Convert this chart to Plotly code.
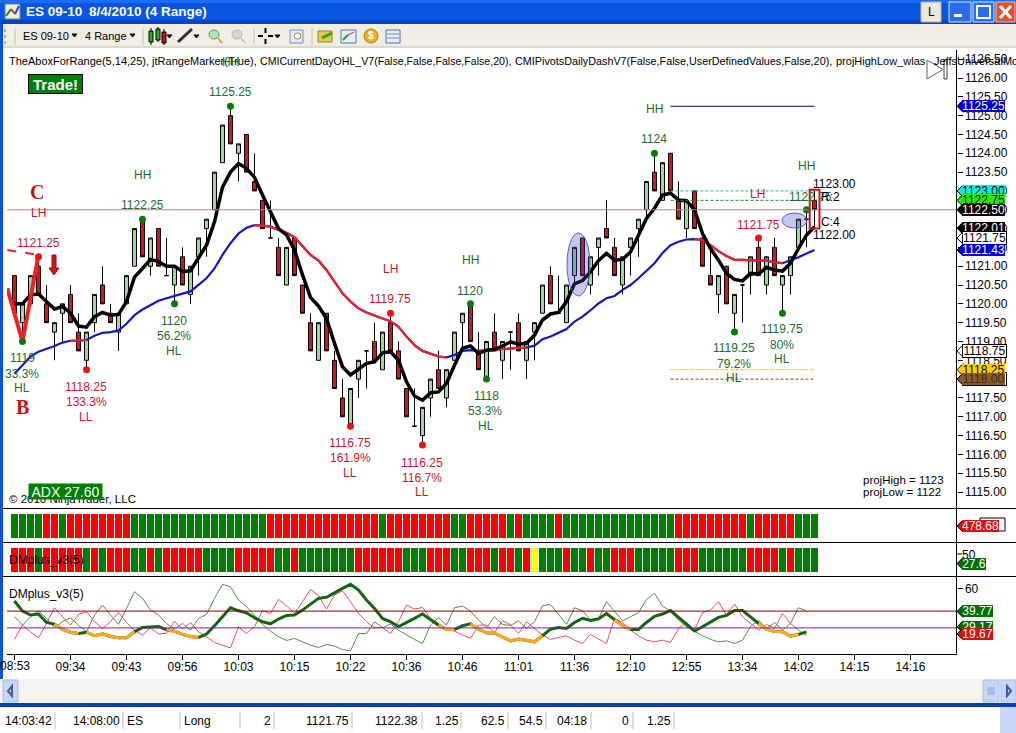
import plotly.graph_objects as go

W, H = 1016, 733

# ------------------------------ data ------------------------------
time_labels = ["08:53","09:34","09:43","09:56","10:03","10:15","10:22","10:36","10:46",
               "11:01","11:36","12:10","12:55","13:34","14:02","14:15","14:16"]

opens = [1120.75,1119.5,1120.0,1121.0,1120.0,1119.25,1119.75,1120.25,1119.25,1118.5,
         1119.5,1120.5,1119.75,1119.25,1120.0,1121.0,1122.25,1121.0,1122.0,1120.75,
         1120.5,1121.25,1120.25,1121.25,1122.0,1122.5,1123.75,1125.0,1124.0,1124.5,
         1123.25,1122.75,1121.75,1121.5,1120.5,1121.75,1120.5,1119.5,1118.5,1119.75,
         1118.5,1117.5,1116.75,1118.0,1118.75,1119.0,1118.25,1119.5,1118.75,1117.75,
         1116.75,1116.5,1117.5,1118.25,1117.5,1118.5,1119.5,1120.0,1118.75,1118.0,
         1119.25,1118.5,1119.25,1119.5,1118.5,1119.25,1119.75,1120.75,1119.75,1119.5,
         1120.75,1121.75,1120.5,1121.5,1122.0,1121.5,1120.5,1121.5,1122.0,1122.5,
         1123.5,1122.75,1124.0,1122.75,1122.0,1123.0,1121.75,1120.75,1120.25,1121.0,
         1119.75,1120.5,1120.75,1121.5,1120.5,1121.5,1120.5,1120.75,1121.5,1122.25,1122.75]
highs = [1120.75,1120.0,1120.75,1121.25,1120.5,1119.5,1120.0,1120.5,1119.75,1119.25,
         1120.25,1121.0,1120.0,1119.75,1120.75,1122.0,1122.25,1121.75,1122.0,1121.75,
         1121.0,1121.5,1121.0,1121.75,1122.25,1123.5,1124.75,1125.25,1124.25,1124.5,
         1124.0,1122.75,1122.75,1121.75,1121.5,1121.75,1120.5,1119.75,1119.5,1119.75,
         1118.75,1118.0,1117.75,1118.5,1118.75,1119.5,1119.25,1119.75,1119.0,1117.75,
         1117.75,1117.25,1118.0,1118.75,1118.25,1119.25,1119.75,1120.0,1119.25,1119.0,
         1119.75,1119.0,1119.25,1119.75,1119.0,1119.5,1120.5,1121.0,1120.75,1120.5,
         1121.5,1121.75,1121.25,1121.75,1122.75,1121.75,1121.25,1121.75,1122.25,1123.25,
         1124.0,1123.75,1124.0,1123.25,1122.75,1123.0,1121.75,1121.5,1120.75,1121.0,
         1120.25,1120.5,1121.25,1121.75,1121.25,1121.75,1120.75,1121.25,1122.25,1122.5,1123.0]
lows = [1119.75,1119.0,1120.0,1120.25,1119.5,1118.5,1119.0,1119.5,1118.75,1118.25,
        1119.25,1120.0,1119.5,1118.75,1120.0,1121.0,1121.25,1120.75,1121.0,1120.75,
        1120.0,1120.5,1120.0,1120.75,1121.25,1122.5,1123.75,1124.25,1123.25,1123.5,
        1123.0,1122.0,1121.75,1120.75,1120.5,1120.75,1119.75,1118.75,1118.5,1118.75,
        1117.75,1117.0,1116.75,1117.5,1117.75,1118.5,1118.25,1118.75,1118.0,1117.0,
        1116.75,1116.25,1117.0,1117.75,1117.25,1118.5,1118.75,1119.0,1118.25,1118.0,
        1118.75,1118.0,1118.25,1118.75,1118.0,1118.5,1119.75,1120.0,1119.75,1119.5,
        1120.5,1120.75,1120.25,1120.75,1121.75,1120.75,1120.25,1120.75,1121.25,1122.25,
        1123.0,1122.75,1123.0,1122.25,1121.75,1122.0,1121.0,1120.5,1119.75,1120.0,
        1119.25,1119.5,1120.25,1120.75,1120.25,1120.75,1119.75,1120.25,1121.5,1121.5,1122.0]
closes = [1119.75,1120.0,1120.75,1120.25,1119.5,1119.5,1120.0,1119.5,1118.75,1119.25,
          1120.25,1120.0,1119.5,1119.75,1120.75,1122.0,1121.25,1121.75,1121.0,1120.75,
          1121.0,1120.5,1121.0,1121.75,1122.25,1123.5,1124.75,1124.25,1124.25,1123.5,
          1123.0,1122.0,1121.75,1120.75,1121.5,1120.75,1119.75,1118.75,1119.5,1118.75,
          1117.75,1117.0,1117.75,1118.5,1118.75,1118.5,1119.25,1118.75,1118.0,1117.0,
          1116.75,1117.25,1118.0,1117.75,1118.25,1119.25,1119.75,1119.0,1118.25,1119.0,
          1118.75,1119.0,1119.25,1118.75,1119.0,1119.5,1120.5,1120.0,1119.75,1120.5,
          1121.5,1120.75,1121.25,1121.75,1121.75,1120.75,1121.25,1121.75,1122.25,1123.25,
          1123.0,1123.75,1123.0,1122.25,1122.75,1122.0,1121.0,1120.5,1120.75,1120.0,
          1120.25,1120.5,1121.25,1120.75,1121.25,1120.75,1120.75,1121.25,1122.25,1122.25,1122.5]

fast_ma = [1120.0,1120.0,1120.24,1120.26,1120.06,1119.86,1119.93,1119.75,1119.41,1119.38,
           1119.66,1119.77,1119.70,1119.72,1120.06,1120.71,1120.94,1121.18,1121.12,1121.0,
           1121.0,1120.86,1120.88,1121.2,1121.56,1122.18,1123.1,1123.5,1123.73,1123.6,
           1123.36,1122.89,1122.45,1122.0,1121.83,1121.43,1120.77,1120.17,1119.94,1119.61,
           1118.95,1118.33,1118.11,1118.26,1118.42,1118.46,1118.7,1118.73,1118.5,1117.93,
           1117.55,1117.44,1117.64,1117.66,1117.89,1118.37,1118.82,1118.88,1118.68,1118.77,
           1118.79,1118.88,1118.99,1118.93,1118.95,1119.17,1119.57,1119.73,1119.77,1120.06,
           1120.53,1120.62,1120.85,1121.15,1121.34,1121.16,1121.18,1121.38,1121.83,1122.27,
           1122.54,1122.89,1122.94,1122.76,1122.74,1122.5,1121.87,1121.47,1121.16,1120.81,
           1120.65,1120.61,1120.81,1120.79,1120.97,1120.9,1120.87,1121.08,1121.47,1121.83,1122.05]
trend_ma = [1118.14,1118.36,1118.6,1118.73,1118.8,1118.88,1118.97,1119.02,1119.02,1119.04,
            1119.15,1119.23,1119.25,1119.29,1119.47,1119.7,1119.85,1119.97,1120.08,1120.15,
            1120.22,1120.27,1120.33,1120.51,1120.68,1120.94,1121.3,1121.61,1121.87,1122.02,
            1122.09,1122.08,1122.05,1121.96,1121.89,1121.77,1121.52,1121.3,1121.15,1120.9,
            1120.59,1120.28,1120.06,1119.88,1119.77,1119.68,1119.61,1119.54,1119.39,1119.13,
            1118.9,1118.75,1118.68,1118.6,1118.58,1118.64,1118.75,1118.77,1118.75,1118.75,
            1118.77,1118.8,1118.82,1118.82,1118.84,1118.89,1119.06,1119.13,1119.23,1119.33,
            1119.53,1119.66,1119.83,1120.01,1120.15,1120.21,1120.37,1120.5,1120.68,1120.88,
            1121.08,1121.35,1121.56,1121.65,1121.71,1121.72,1121.7,1121.56,1121.4,1121.27,
            1121.17,1121.17,1121.15,1121.15,1121.15,1121.1,1121.08,1121.15,1121.24,1121.34,1121.43]
trend_red_runs = [(7, 9), (30, 54), (58, 64), (85, 96)]

swing_high_idx = [16, 20, 27, 1, 57, 59, 80, 90, 96, 99]
swing_high_val = [1122.25, 1120.0, 1125.25, 1119.0, 1120.0, 1118.0, 1124.0, 1119.25, 1119.75, 1122.5]
swing_low_idx = [3, 9, 42, 47, 51, 93]
swing_low_val = [1121.25, 1118.25, 1116.75, 1119.75, 1116.25, 1121.75]

zig_idx = [-0.9, 1, 3]
zig_val = [1120.41, 1119.0, 1121.3]
zig_dash_idx = [-0.9, 3]
zig_dash_val = [1121.43, 1121.3]

top_runs = [("G",4),("R",2),("G",1),("R",8),("G",17),("R",14),("G",1),("R",8),("G",2),("R",5),
            ("G",1),("R",1),("G",4),("R",1),("G",14),("R",9),("G",1),("R",5),("G",3)]
mid_runs = [("R",3),("G",1),("R",5),("G",1),("R",1),("G",1),("R",3),("G",2),("R",1),("G",1),
            ("R",5),("G",4),("R",5),("G",2),("R",1),("G",7),("R",6),("G",3),("R",3),("G",2),
            ("R",3),("G",1),("R",2),("G",1),("R",1),("Y",1),("G",3),("R",1),("G",2),("R",1),
            ("G",2),("R",3),("G",5),("R",3),("G",6),("R",4),("G",1),("R",1),("G",3)]

adx = [49.0,40.0,36.5,37.4,29.9,28.4,23.6,21.2,20.0,21.2,
       18.0,19.8,17.4,16.2,16.2,21.5,25.4,25.7,26.3,23.3,
       22.1,19.2,17.4,16.5,19.5,26.9,35.0,43.0,40.3,38.5,
       34.1,30.5,28.7,32.9,36.2,36.5,40.9,46.0,51.4,52.3,
       56.5,60.3,63.9,58.8,49.9,42.4,33.5,30.5,26.3,29.6,
       33.5,37.4,32.6,27.5,23.6,23.6,26.9,28.7,23.9,20.6,
       20.3,16.8,13.5,15.0,14.1,12.6,18.0,23.9,25.4,24.5,
       29.9,33.5,31.7,33.2,37.9,32.0,26.9,23.6,23.6,29.9,
       35.3,37.4,40.6,34.4,28.4,22.4,26.0,30.5,34.4,36.2,
       40.6,40.6,34.4,29.0,23.9,21.8,21.5,17.7,19.2,21.5]
adx_orange_runs = [(5, 8), (9, 15), (19, 23), (53, 55), (57, 66), (75, 77), (93, 98)]
dm_plus = [35.0,27.5,35.0,40.3,33.5,25.1,30.5,34.1,27.5,21.5,
           36.5,45.4,36.5,28.1,42.4,57.4,51.4,40.9,36.5,29.0,
           23.9,29.0,23.0,33.5,37.1,51.4,63.9,61.8,49.9,43.9,
           36.5,28.1,22.1,17.1,13.8,15.6,12.6,9.6,7.5,10.2,
           8.7,5.7,4.5,20.0,20.0,30.5,25.4,28.4,23.0,18.6,
           14.7,11.1,27.5,34.1,27.5,43.0,44.5,40.0,32.0,25.1,
           35.0,28.1,27.2,31.4,24.5,30.5,44.8,46.0,37.1,28.1,
           43.0,40.3,32.0,33.5,48.4,39.4,31.4,35.0,38.5,50.5,
           55.9,44.5,40.0,32.0,26.0,22.1,18.0,14.7,12.6,13.5,
           11.1,14.1,26.0,32.0,24.5,29.9,23.0,29.0,43.0,40.0]
dm_minus = [14.7,27.5,21.5,16.2,29.0,43.0,35.0,27.5,37.1,39.4,
            30.5,24.5,30.5,38.8,29.9,23.0,18.6,25.1,19.5,20.3,
            31.1,23.9,29.9,21.5,17.1,12.0,9.6,7.2,26.0,20.0,
            26.0,40.6,37.9,50.5,44.8,37.9,48.4,59.4,53.8,41.8,
            54.4,58.2,48.4,37.9,30.5,25.1,25.4,20.0,30.5,45.4,
            41.8,43.3,33.5,29.0,23.9,22.1,18.6,15.6,27.5,27.5,
            20.9,31.4,27.8,20.0,30.5,24.5,18.6,14.7,16.2,18.0,
            14.1,11.1,19.2,15.0,11.1,33.5,29.9,23.0,18.0,14.1,
            12.6,14.1,12.0,24.5,29.9,23.0,38.8,40.9,48.4,36.5,
            46.3,35.0,29.0,23.0,28.1,24.5,37.9,29.0,23.0,18.0]

# ------------------------------ helpers ------------------------------
def px(x): return x / W
def py(y): return 1 - y / H
def dom(top, bot): return [1 - bot / H, 1 - top / H]
def runs(pairs):
    out = []
    for c, n in pairs:
        out += [c] * n
    return out

FONT = "Liberation Sans"
GREEN_T = "#1E6B2A"
RED_T = "#C4162E"
CELL = {"G": "#007F00", "R": "#FF0000", "Y": "#FFFF00"}
n_bars = len(opens)
bar_x = list(range(n_bars))

shapes, ann = [], []

def rect(x0, y0, x1, y1, fill, line=None, layer="below", lw=1):
    shapes.append(dict(type="rect", xref="paper", yref="paper", x0=px(x0), x1=px(x1),
                       y0=py(y1), y1=py(y0), fillcolor=fill, layer=layer,
                       line=dict(color=line or fill, width=lw if line else 0)))

def seg(x0, y0, x1, y1, color, lw=1, layer="above", dash="solid"):
    shapes.append(dict(type="line", xref="paper", yref="paper", x0=px(x0), x1=px(x1),
                       y0=py(y0), y1=py(y1), layer=layer, line=dict(color=color, width=lw, dash=dash)))

def poly(points, fill=None, line="#000000", lw=1, layer="above"):
    d = "M " + " L ".join(f"{px(a):.5f} {py(b):.5f}" for a, b in points) + " Z"
    shapes.append(dict(type="path", xref="paper", yref="paper", path=d, layer=layer,
                       fillcolor=fill or "rgba(0,0,0,0)", line=dict(color=line, width=lw)))

def oval(x0, y0, x1, y1, fill, line, lw=1):
    shapes.append(dict(type="circle", xref="paper", yref="paper", x0=px(x0), x1=px(x1), y0=py(y1), y1=py(y0),
                       fillcolor=fill, layer="above", line=dict(color=line, width=lw)))

def T(x, y, text, color="#000000", size=12, anchor="center", bold=False, family=FONT, **kw):
    if bold:
        text = f"<b>{text}</b>"
    ann.append(dict(x=px(x), y=py(y), xref="paper", yref="paper", text=text, showarrow=False,
                    xanchor=anchor, yanchor="middle", borderpad=0,
                    font=dict(family=family, size=size, color=color), **kw))

def flag(value, yref, text, fill, txt, right=1005, border=None):
    """Price marker on the right axis, placed by the axis scale."""
    shapes.append(dict(type="path", xref="paper", yref=yref, xsizemode="pixel", ysizemode="pixel",
                       xanchor=px(957), yanchor=value, layer="above",
                       path="M 0 0 L 6 6 L 6 -6 Z", fillcolor=fill,
                       line=dict(color=border or "#000000", width=1)))
    ann.append(dict(x=px(962), y=value, xref="paper", yref=yref, text=text, showarrow=False,
                    xanchor="left", yanchor="middle", width=right - 962, height=12, borderpad=0,
                    bgcolor=fill, bordercolor=border or fill, borderwidth=1 if border else 0,
                    font=dict(family=FONT, size=12, color=txt)))

# ------------------------------ window chrome ------------------------------
rect(0, 0, W, 3, "#1A6CF0")
rect(0, 3, W, 20, "#0A56E2")
rect(0, 20, W, 24, "#0A42C4")
rect(0, 24, W, 48, "#EFEDE4")
rect(0, 46, W, 48, "#DCD9CB")
rect(0, 24, 3, 704, "#0A50DC")
rect(0, 679, W, 703, "#F5F4EE")
rect(3, 680, 18, 702, "#C6D6F6", "#A9BEE8")
rect(983, 680, 999, 702, "#C6D6F6", "#A9BEE8")
rect(1001, 680, 1016, 702, "#C6D6F6", "#A9BEE8")
rect(0, 703, W, 707, "#0A3CBE")
rect(1000, 707, 1016, 733, "#C6D6F6")
poly([(12, 686), (8, 691), (12, 696)], None, "#3E5A9A", 2)
poly([(1007, 686), (1011, 691), (1007, 696)], None, "#3E5A9A", 2)
for gx in (988, 990, 992, 994):
    seg(gx, 687, gx, 695, "#8CA4D8")

# title bar
rect(5, 4, 20, 19, "#E8F0E0", "#6A8A6A", layer="above")
seg(6, 16, 11, 9, "#2A7A2A", 2)
seg(11, 9, 15, 14, "#CC3333", 2)
seg(15, 14, 19, 6, "#3344BB", 2)
T(25, 12, "ES 09-10", "#FFFFFF", 13.5, "left", True)
T(88, 12, "8/4/2010 (4 Range)", "#FFFFFF", 13.5, "left", True)
rect(921, 2, 941, 22, "#ECE9D8", "#B8B4A0", "above")
T(931, 12, "L", "#000000", 12)
rect(949, 2, 971, 22, "#2A6CF0", "#DCE8FF", "above")
rect(954, 14, 962, 17, "#FFFFFF", layer="above")
rect(973, 2, 994, 22, "#2A6CF0", "#DCE8FF", "above")
rect(977, 6, 990, 18, "#2A6CF0", "#FFFFFF", "above", 2)
rect(996, 2, 1015, 22, "#E2512E", "#F4C4B4", "above")
seg(1000, 6, 1011, 18, "#FFFFFF", 3)
seg(1011, 6, 1000, 18, "#FFFFFF", 3)

# toolbar
seg(5, 29, 5, 44, "#B8B4A0", 2, dash="dot")
seg(15, 28, 15, 45, "#C4C0B0")
T(22, 36, "ES 09-10", "#000000", 11, "left")
poly([(72, 34), (77, 34), (74.5, 37)], "#000000")
T(84, 36, "4 Range", "#000000", 11, "left")
poly([(130, 34), (135, 34), (132.5, 37)], "#000000")
seg(143, 28, 143, 45, "#C4C0B0")
seg(151, 28, 151, 45, "#000000")
rect(149, 31, 153, 42, "#20B020", "#000000", "above")
seg(158, 27, 158, 42, "#000000")
rect(156, 29, 160, 40, "#20B020", "#000000", "above")
seg(164, 29, 164, 45, "#000000")
rect(162, 32, 166, 43, "#C01010", "#000000", "above")
poly([(167, 35), (172, 35), (169.5, 38)], "#000000")
seg(178, 42, 192, 29, "#303030", 3)
poly([(194, 35), (199, 35), (196.5, 38)], "#000000")
oval(209, 30, 219, 39, "#B8E0B8", "#5A9A5A")
seg(218, 38, 222, 43, "#D8A040", 2)
oval(232, 30, 242, 39, "#D4D4D0", "#B4B4B0")
seg(241, 38, 245, 43, "#C4C4C0", 2)
seg(254, 28, 254, 45, "#C4C0B0")
seg(258, 36, 263, 36, "#000000", 2)
seg(268, 36, 273, 36, "#000000", 2)
seg(265.5, 28, 265.5, 33, "#000000", 2)
seg(265.5, 39, 265.5, 44, "#000000", 2)
poly([(275, 35), (280, 35), (277.5, 38)], "#000000")
rect(290, 30, 303, 43, "#E4ECF8", "#7090C0", "above")
oval(294, 33, 301, 39, "#F4F8FF", "#C08040")
seg(312, 28, 312, 45, "#C4C0B0")
rect(318, 31, 332, 42, "#E8C850", "#A88020", "above")
seg(322, 38, 332, 33, "#30A030", 3)
rect(341, 30, 356, 43, "#E4F0F8", "#5070A0", "above")
seg(343, 40, 348, 35, "#20A020", 2)
seg(348, 35, 354, 32, "#C03030", 1)
oval(364, 29, 378, 43, "#F0B020", "#B07810")
T(371, 36, "$", "#FFFFFF", 10, bold=True)
rect(386, 30, 400, 43, "#E8ECF8", "#5070A0", "above")
for gy in (34, 38):
    seg(387, gy, 399, gy, "#7090C0")

# status row
for right, txt in [(53, "14:03:42"), (121, "14:08:00"), (272, "2"), (350, "1121.75"), (419, "1122.38"),
                   (460, "1.25"), (506, "62.5"), (544, "54.5"), (588, "04:18"), (630, "0"), (672, "1.25")]:
    T(right, 721, txt, "#000000", 12, "right")
T(126, 721, "ES", "#000000", 12, "left")
T(183, 721, "Long", "#000000", 12, "left")
for sx in (55, 123, 180, 240, 274, 352, 422, 461, 508, 546, 591, 633, 674):
    seg(sx, 712, sx, 729, "#BDBDB5")

# panel separators and axis
for sy in (508.5, 542.5, 576.5):
    seg(2, sy, W, sy, "#000000")
seg(956.5, 50, 956.5, 653.5, "#000000")
seg(956.5, 554, 962, 554, "#000000")

# ------------------------------ overlays on the price pane ------------------------------
def hline_y(v, yref, color, dash="solid", lw=1):
    shapes.append(dict(type="line", xref="x domain", yref=yref, x0=0, x1=1, y0=v, y1=v, layer="above",
                       line=dict(color=color, width=lw, dash=dash)))
hline_y(1122.5, "y", "#B08888")
hline_y(40, "y4", "#8B0000")
hline_y(25, "y4", "#7B1FA2")

oval(567, 233, 590, 296, "rgba(70,70,200,0.30)", "#5A5AC0")
oval(782, 213, 807, 228, "rgba(70,70,200,0.30)", "#5A5AC0")
shapes.append(dict(type="rect", xref="x", yref="y", x0=99.4, x1=100.62, y0=1122.0, y1=1123.03, layer="above",
                   line=dict(color="#C81818", width=2)))

# play icon
poly([(927, 60), (943, 69.5), (927, 79)], None, "#606060", 1)
rect(944, 60, 947, 79, "#FFFFFF", "#404040", "above")

# down arrow beside the swing high
poly([(52, 255), (56, 255), (56, 268), (59, 268), (54, 275), (49, 268), (52, 268)], "#CC1818", "#8A1010")

# text on the price pane
T(8, 61, "TheAboxForRange(5,14,25), jtRangeMarker(True),", "#000000", 11, "left")
T(259, 61, "CMICurrentDayOHL_V7(False,False,False,False,20),", "#000000", 10.6, "left")
T(514, 61, "CMIPivotsDailyDashV7(False,False,UserDefinedValues,False,20),", "#000000", 10.8, "left")
T(835, 61, "projHighLow_wlas", "#000000", 11, "left")
T(933, 61, "JeffsUniversalMo", "#000000", 11, "left")
ann.append(dict(x=px(28), y=py(74), xref="paper", yref="paper", text="<b>Trade!</b>", showarrow=False,
                xanchor="left", yanchor="top", width=53, height=18, bgcolor="#008000", bordercolor="#000000",
                borderwidth=1, borderpad=0, font=dict(family=FONT, size=15, color="#FFFFFF")))
T(37, 192, "C", "#CC1010", 20, bold=True, family="Liberation Serif")
T(22, 407, "B", "#CC1010", 20, bold=True, family="Liberation Serif")

green_labels = [(230, 62, "HH"), (230, 92, "1125.25"), (142, 175, "HH"), (142, 205, "1122.25"),
                (22, 358, "1119"), (22, 374, "33.3%"), (22, 388, "HL"),
                (174, 321, "1120"), (174, 336, "56.2%"), (174, 351, "HL"),
                (470, 260, "HH"), (470, 291, "1120"),
                (486, 396, "1118"), (485, 411, "53.3%"), (486, 426, "HL"),
                (654, 109, "HH"), (654, 139, "1124"),
                (734, 348, "1119.25"), (734, 364, "79.2%"), (734, 378, "HL"),
                (782, 329, "1119.75"), (782, 345, "80%"), (782, 359, "HL"),
                (806, 166, "HH"), (810, 197, "1122.75")]
red_labels = [(38, 213, "LH"), (38, 243, "1121.25"),
              (86, 387, "1118.25"), (86, 402, "133.3%"), (86, 417, "LL"),
              (390, 269, "LH"), (390, 299, "1119.75"),
              (350, 443, "1116.75"), (350, 458, "161.9%"), (350, 473, "LL"),
              (422, 463, "1116.25"), (422, 478, "116.7%"), (422, 492, "LL"),
              (757, 194, "LH"), (758, 225, "1121.75")]
for x, y, t in green_labels:
    T(x, y, t, GREEN_T, 12)
for x, y, t in red_labels:
    T(x, y, t, RED_T, 12)
T(812, 184, "1123.00", "#000000", 12, "left")
T(820, 197, "R:2", "#000000", 12, "left")
T(820, 222, "C:4", "#000000", 12, "left")
T(812, 235, "1122.00", "#000000", 12, "left")
T(862, 480, "projHigh = 1123", "#000000", 11.5, "left")
T(862, 492, "projLow = 1122", "#000000", 11.5, "left")
T(8, 499, "© 2010 NinjaTrader, LLC", "#000000", 11.5, "left")
ann.append(dict(x=px(28), y=py(483), xref="paper", yref="paper", text="ADX 27.60", showarrow=False,
                xanchor="left", yanchor="top", width=73, height=15, bgcolor="#008000", borderpad=0,
                font=dict(family=FONT, size=14, color="#FFFFFF")))
T(8, 560, "DMplus_v3(5)", "#000000", 12, "left")
T(8, 594, "DMplus_v3(5)", "#000000", 12, "left")
T(961, 555, "50", "#000000", 12, "left")
T(15, 666, time_labels[0], "#000000", 12)

# price markers on the right axis
rect(980, 518, 1005, 531, "#FFFFFF", "#000000", "above")
flag(1125.25, "y", "1125.25", "#0000D0", "#FFFFFF")
flag(1123.0, "y", "1123.00", "#00F0F0", "#000000")
flag(1122.75, "y", "1122.75", "#20F000", "#000000")
flag(1122.5, "y", "1122.50", "#000000", "#FFFFFF")
flag(1122.01, "y", "1122.01", "#000000", "#FFFFFF")
flag(1121.75, "y", "1121.75", "#FFFFFF", "#000000", border="#000000")
flag(1121.43, "y", "1121.43", "#0000D0", "#FFFFFF")
flag(1118.75, "y", "1118.75", "#FFFFFF", "#000000", border="#000000")
flag(1118.0, "y", "1118.00", "#FFFFFF", "#000000", border="#000000")
flag(1118.25, "y", "1118.25", "#FFCC00", "#000000")
flag(1118.0, "y", "1118.00", "#8B5A2B", "#3A2A10")
flag(0.5, "y2", "478.68", "#DD1010", "#FFFFFF", right=999)
flag(0.35, "y3", "27.6", "#007000", "#FFFFFF", right=986)
flag(39.77, "y4", "39.77", "#007000", "#FFFFFF", right=993)
flag(26.0, "y4", "29.17", "#007000", "#FFFFFF", right=993)
flag(19.67, "y4", "19.67", "#DD1010", "#FFFFFF", right=993)

# ------------------------------ traces ------------------------------
fig = go.Figure()
fig.add_trace(go.Candlestick(x=bar_x, open=opens, high=highs, low=lows, close=closes, xaxis="x", yaxis="y",
                             increasing=dict(fillcolor="#96DC96", line=dict(color="#000000", width=1)),
                             decreasing=dict(fillcolor="#DD1212", line=dict(color="#000000", width=1)),
                             whiskerwidth=0, hoverinfo="skip", showlegend=False))

def line(xs, ys, color, width, yaxis="y", dash=None):
    fig.add_trace(go.Scatter(x=xs, y=ys, mode="lines", xaxis="x", yaxis=yaxis, hoverinfo="skip", showlegend=False,
                             line=dict(color=color, width=width, dash=dash)))

def two_tone(values, alt_runs, base, alt, width, yaxis):
    line(bar_x[:len(values)], values, base, width, yaxis)
    for a, b in alt_runs:
        line(bar_x[a:b + 1], values[a:b + 1], alt, width, yaxis)

two_tone(trend_ma, trend_red_runs, "#1414C8", "#EE2222", 2.2, "y")
line(bar_x, fast_ma, "#000000", 3.5)

# reference segments tied to the key price levels
line([82, 100], [1125.25, 1125.25], "#000080", 1)
line([82, 100], [1123.0, 1123.0], "#00C8C8", 1, dash="3px,2px")
line([82, 100], [1122.75, 1122.75], "#109010", 1, dash="3px,2px")
line([82, 100], [1118.25, 1118.25], "#E8B800", 1, dash="3px,2px")
line([82, 100], [1118.0, 1118.0], "#7A4A20", 1, dash="3px,2px")

line(zig_idx, zig_val, "#EE2222", 4)
line(zig_dash_idx, zig_dash_val, "#EE2222", 2, dash="dash")
fig.add_trace(go.Scatter(x=swing_high_idx, y=swing_high_val, mode="markers", hoverinfo="skip", showlegend=False,
                         marker=dict(color="#0A780A", size=7), xaxis="x", yaxis="y"))
fig.add_trace(go.Scatter(x=swing_low_idx, y=swing_low_val, mode="markers", hoverinfo="skip", showlegend=False,
                         marker=dict(color="#F01010", size=7), xaxis="x", yaxis="y"))

fig.add_trace(go.Bar(x=bar_x, y=[1] * n_bars, width=0.875, xaxis="x", yaxis="y2", hoverinfo="skip", showlegend=False,
                     marker=dict(color=[CELL[c] for c in runs(top_runs)], line=dict(width=0))))
fig.add_trace(go.Bar(x=bar_x, y=[1] * n_bars, width=0.875, xaxis="x", yaxis="y3", hoverinfo="skip", showlegend=False,
                     marker=dict(color=[CELL[c] for c in runs(mid_runs)], line=dict(width=0))))

line(bar_x[:len(dm_plus)], dm_plus, "#4F8F4F", 1, "y4")
line(bar_x[:len(dm_minus)], dm_minus, "#EC4A5C", 1, "y4")
two_tone(adx, adx_orange_runs, "#116611", "#FFA61E", 3, "y4")

# ------------------------------ layout ------------------------------
fig.update_layout(
    width=W, height=H, margin=dict(l=0, r=0, t=0, b=0), paper_bgcolor="#FFFFFF", plot_bgcolor="#FFFFFF",
    showlegend=False, boxgap=0.5, boxgroupgap=0, font=dict(family=FONT, size=12, color="#000000"),
    xaxis=dict(domain=[px(7), px(956.5)], range=[-0.9375, 117.75], anchor="y4", rangeslider=dict(visible=False),
               tickmode="array", tickvals=[7 * k for k in range(len(time_labels))], ticktext=time_labels,
               showgrid=False, zeroline=False, ticks="outside", ticklen=5, tickcolor="#000000", ticklabelstandoff=-3,
               showline=True, linecolor="#000000", linewidth=1, tickfont=dict(family=FONT, size=12, color="#000000")),
    yaxis=dict(domain=dom(52, 508), range=[1114.576, 1126.691], side="right", anchor="x", tick0=1115, dtick=0.5,
               tickformat=".2f", showgrid=False, zeroline=False, ticks="outside", ticklen=5, tickcolor="#000000",
               tickfont=dict(family=FONT, size=12, color="#000000"), showline=False),
    yaxis2=dict(domain=dom(514, 538), range=[0, 1], anchor="x", visible=False),
    yaxis3=dict(domain=dom(548, 572), range=[0, 1], anchor="x", visible=False),
    yaxis4=dict(domain=dom(576.5, 653.5), range=[2.17, 70.9], side="right", anchor="x", tickmode="array",
                tickvals=[60], ticktext=["60"], showgrid=False, zeroline=False, ticks="outside", ticklen=5,
                tickcolor="#000000", tickfont=dict(family=FONT, size=12, color="#000000")),
    shapes=shapes, annotations=ann,
)

fig.write_html("out.html", config=dict(displayModeBar=False),
               post_script="document.body.style.margin='0';document.body.style.overflow='hidden';")
